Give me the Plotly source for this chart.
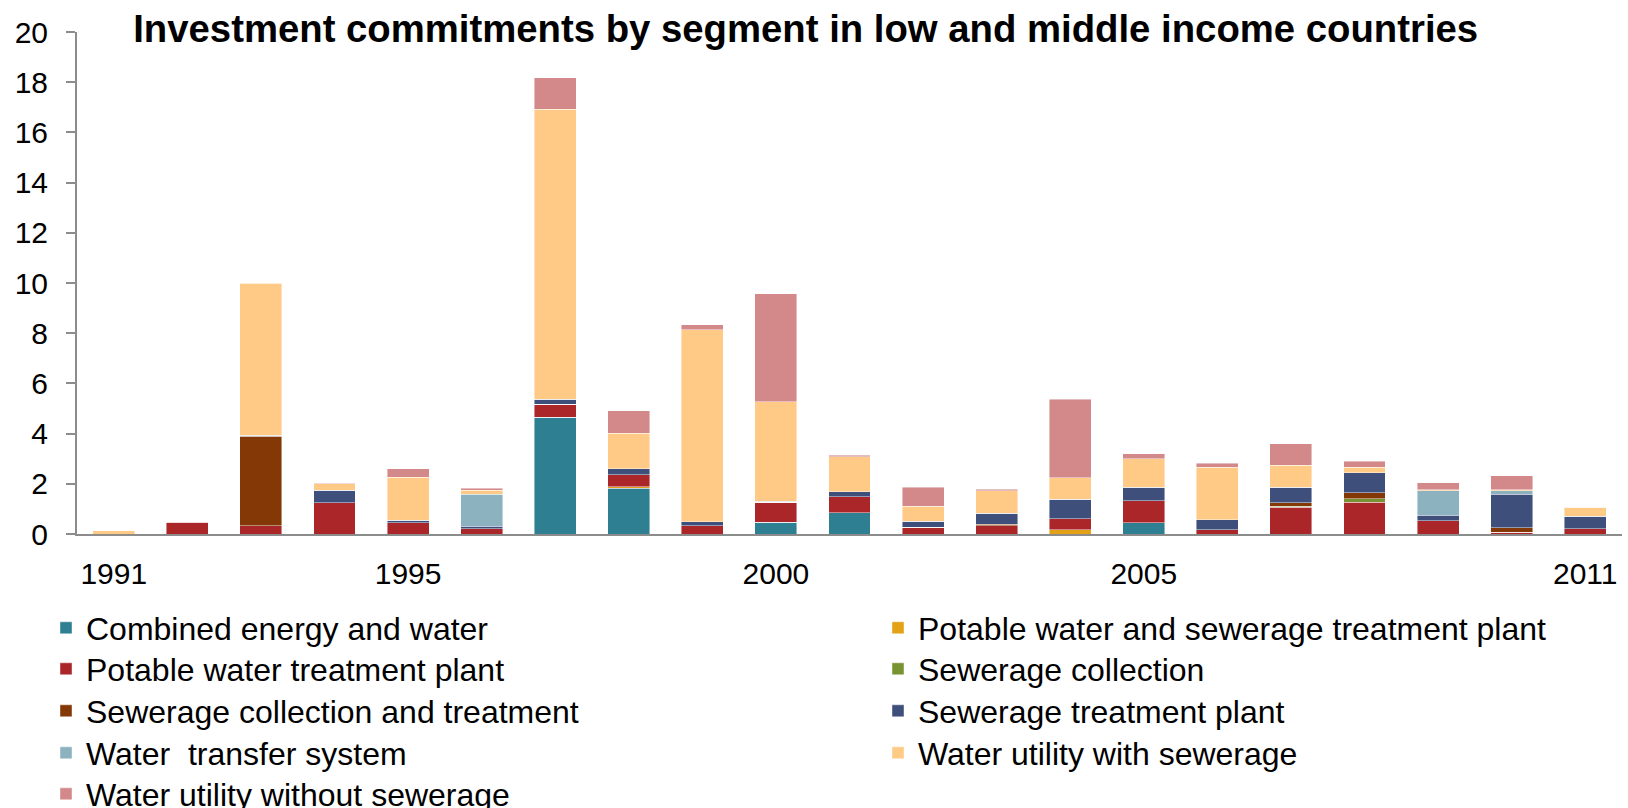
import plotly.graph_objects as go

years = [str(y) for y in range(1991, 2012)]
tick_years = ["1991", "1995", "2000", "2005", "2011"]

combined_energy_water = [0, 0, 0, 0, 0, 0, 4.65, 1.83, 0, 0.47, 0.85, 0, 0, 0, 0.44, 0, 0, 0, 0, 0, 0]
potable_sewerage_tp = [0, 0, 0, 0, 0, 0, 0, 0.06, 0, 0, 0, 0, 0, 0.17, 0, 0, 0, 0, 0, 0, 0]
potable_water_tp = [0, 0.44, 0.33, 1.24, 0.44, 0.21, 0.52, 0.48, 0.33, 0.80, 0.64, 0.27, 0.33, 0.43, 0.89, 0.16, 1.06, 1.27, 0.52, 0.07, 0.20]
sewerage_collection = [0, 0, 0, 0, 0, 0, 0, 0, 0, 0, 0, 0, 0, 0, 0, 0, 0.05, 0.14, 0, 0, 0]
sewerage_coll_treat = [0, 0, 3.56, 0, 0, 0, 0, 0, 0, 0, 0, 0, 0.05, 0, 0, 0, 0.13, 0.24, 0, 0.17, 0]
sewerage_tp = [0, 0, 0.04, 0.51, 0.10, 0.09, 0.19, 0.22, 0.15, 0.04, 0.19, 0.23, 0.44, 0.79, 0.53, 0.40, 0.62, 0.79, 0.23, 1.35, 0.50]
water_transfer = [0, 0, 0, 0, 0, 1.29, 0, 0, 0, 0, 0, 0, 0, 0, 0, 0, 0, 0, 0.98, 0.14, 0]
utility_with_sewerage = [0.12, 0, 6.07, 0.26, 1.73, 0.16, 11.56, 1.43, 7.66, 3.96, 1.40, 0.61, 0.90, 0.86, 1.14, 2.10, 0.88, 0.21, 0.04, 0.04, 0.37]
utility_without_sewerage = [0, 0.02, 0.02, 0.02, 0.32, 0.07, 1.26, 0.90, 0.19, 4.31, 0.05, 0.75, 0.06, 3.12, 0.20, 0.15, 0.86, 0.24, 0.27, 0.56, 0]

series_names = [
    "Combined energy and water",
    "Potable water and sewerage treatment plant",
    "Potable water treatment plant",
    "Sewerage collection",
    "Sewerage collection and treatment",
    "Sewerage treatment plant",
    "Water  transfer system",
    "Water utility with sewerage",
    "Water utility without sewerage",
]
series_values = [
    combined_energy_water, potable_sewerage_tp, potable_water_tp,
    sewerage_collection, sewerage_coll_treat, sewerage_tp,
    water_transfer, utility_with_sewerage, utility_without_sewerage,
]
series_colors = [
    "#2E7F91", "#E3A115", "#AA2629", "#789432", "#833806",
    "#3D4F7A", "#8CB2C0", "#FECA86", "#D3898A",
]

FONT = "Liberation Sans, Arial, sans-serif"
AXIS_GRAY = "#8C8C8C"

# layout geometry (pixels) for the two-column legend
M_L, M_R, M_T, M_B = 77, 6, 32, 274
W, H = 1628, 808
PLOT_W = W - M_L - M_R
PLOT_H = H - M_T - M_B
LEG_COL_PX = [46, 878]
LEG_ROW_PX = [628, 669, 711, 753, 794]

fig = go.Figure()
layout_legends = {}
for i, (name, vals, color) in enumerate(zip(series_names, series_values, series_colors)):
    key = "legend" if i == 0 else f"legend{i + 1}"
    fig.add_trace(go.Bar(
        x=years, y=vals, name=name, legend=key,
        marker=dict(color=color, line=dict(color="rgba(255,255,255,0.55)", width=0.8)),
    ))
    col, row = i % 2, i // 2
    layout_legends[key] = dict(
        x=(LEG_COL_PX[col] - M_L) / PLOT_W,
        y=(H - M_B - LEG_ROW_PX[row]) / PLOT_H,
        xanchor="left", yanchor="middle", orientation="v",
        font=dict(family=FONT, size=32, color="#000000"),
        bgcolor="rgba(0,0,0,0)", itemwidth=30,
    )

fig.update_layout(
    width=W, height=H,
    barmode="stack", bargap=0.43,
    plot_bgcolor="white", paper_bgcolor="white",
    margin=dict(l=M_L, r=M_R, t=M_T, b=M_B, autoexpand=False),
    title=dict(
        text="<b>Investment commitments by segment in low and middle income countries</b>",
        x=0.4949, xref="container", xanchor="center",
        y=0.9641, yref="container", yanchor="middle",
        font=dict(family=FONT, size=38.3, color="#000000"),
    ),
    xaxis=dict(
        type="category", tickmode="array", tickvals=tick_years, ticktext=tick_years,
        showline=True, linecolor=AXIS_GRAY, linewidth=2, ticks="",
        showgrid=False, zeroline=False,
        tickfont=dict(family=FONT, size=30, color="#000000"),
        ticklabelstandoff=12,
    ),
    yaxis=dict(
        range=[0, 20], dtick=2, tick0=0,
        showline=True, linecolor=AXIS_GRAY, linewidth=2,
        ticks="outside", ticklen=9, tickwidth=2, tickcolor=AXIS_GRAY,
        showgrid=False, zeroline=False,
        tickfont=dict(family=FONT, size=30, color="#000000"),
        ticklabelstandoff=12,
    ),
    showlegend=True,
    **layout_legends,
)

fig.write_html(
    "out.html",
    config={"displayModeBar": False},
    post_script="document.body.style.margin='0';document.body.style.overflow='hidden';",
)
